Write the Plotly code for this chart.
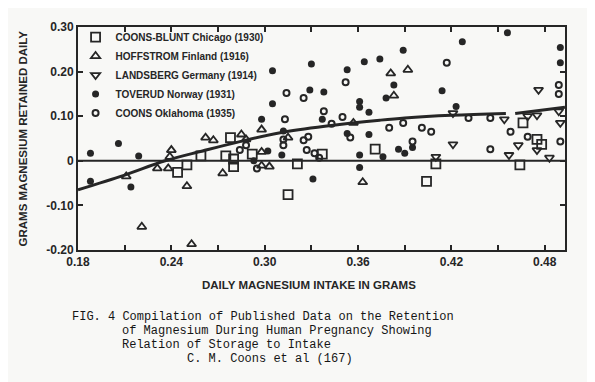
import plotly.graph_objects as go

# ---- data ----
sq_x = [0.244, 0.250, 0.259, 0.278, 0.275, 0.280, 0.280, 0.292, 0.321, 0.315, 0.337, 0.371, 0.404, 0.410, 0.464, 0.466, 0.475, 0.478]
sq_y = [-0.026, -0.009, 0.011, 0.052, 0.011, 0.004, -0.013, 0.015, -0.007, -0.076, 0.015, 0.026, -0.046, -0.007, -0.009, 0.085, 0.048, 0.037]

tu_x = [0.211, 0.221, 0.231, 0.238, 0.240, 0.239, 0.250, 0.253, 0.262, 0.267, 0.273, 0.285, 0.288, 0.298, 0.303, 0.298, 0.298, 0.315, 0.357, 0.363, 0.381, 0.392, 0.383]
tu_y = [-0.035, -0.148, -0.017, -0.017, 0.024, 0.009, -0.057, -0.187, 0.052, 0.046, -0.028, 0.059, 0.048, 0.070, -0.013, -0.011, 0.020, 0.052, 0.085, -0.048, 0.196, 0.204, 0.146]

td_x = [0.421, 0.454, 0.469, 0.475, 0.489, 0.490, 0.476, 0.421, 0.463, 0.475, 0.457, 0.483, 0.410]
td_y = [0.107, 0.093, 0.100, 0.102, 0.111, 0.085, 0.159, 0.037, 0.035, 0.024, 0.013, 0.007, 0.009]

fc_x = [0.188, 0.206, 0.219, 0.188, 0.214, 0.312, 0.311, 0.302, 0.305, 0.330, 0.353, 0.364, 0.374, 0.389,
        0.305, 0.329, 0.338, 0.383, 0.378, 0.361, 0.361, 0.367, 0.298, 0.337, 0.353, 0.367, 0.361, 0.361,
        0.331, 0.376, 0.386, 0.390, 0.395, 0.427, 0.456, 0.490, 0.490, 0.414, 0.423, 0.293]
fc_y = [0.017, 0.039, 0.011, -0.046, -0.059, 0.067, 0.013, 0.022, 0.202, 0.217, 0.204, 0.222, 0.228, 0.248,
        0.128, 0.159, 0.154, 0.170, 0.141, 0.133, 0.120, 0.109, 0.093, 0.093, 0.061, 0.059, 0.013, -0.015,
        -0.041, 0.009, 0.026, 0.017, 0.030, 0.267, 0.287, 0.254, 0.220, 0.157, 0.122, 0.000]

oc_x = [0.288, 0.295, 0.312, 0.312, 0.314, 0.325, 0.313, 0.338, 0.350, 0.325, 0.328, 0.343, 0.355, 0.380,
        0.389, 0.352, 0.417, 0.327, 0.332, 0.335, 0.401, 0.407, 0.395, 0.431, 0.445, 0.458, 0.469, 0.445,
        0.490, 0.489, 0.489, 0.284]
oc_y = [0.035, -0.017, 0.048, 0.035, 0.152, 0.141, 0.093, 0.111, 0.098, 0.046, 0.054, 0.083, 0.052, 0.074,
        0.085, 0.176, 0.220, 0.024, 0.017, 0.007, 0.074, 0.065, 0.043, 0.096, 0.096, 0.065, 0.054, 0.026,
        0.043, 0.170, 0.150, 0.024]

trend_x = [0.18, 0.21, 0.236, 0.26, 0.284, 0.31, 0.34, 0.374, 0.39, 0.42, 0.455, None, 0.461, 0.493]
trend_y = [-0.065, -0.032, 0.0, 0.022, 0.043, 0.063, 0.078, 0.091, 0.096, 0.102, 0.106, None, 0.106, 0.12]

x_ticks = [0.18, 0.24, 0.30, 0.36, 0.42, 0.48]
x_ticklabels = ["0.18", "0.24", "0.30", "0.36", "0.42", "0.48"]
y_ticks = [0.30, 0.20, 0.10, 0.0, -0.10, -0.20]
y_ticklabels = ["0.30", "0.20", "0.10", "0", "-0.10", "-0.20"]

series_names = ["COONS-BLUNT Chicago (1930)", "HOFFSTROM Finland (1916)", "LANDSBERG Germany (1914)",
                "TOVERUD Norway (1931)", "COONS Oklahoma (1935)"]

caption = ["FIG. 4 Compilation of Published Data on the Retention",
           "of Magnesium During Human Pregnancy Showing",
           "Relation of Storage to Intake",
           "C. M. Coons et al (167)"]

INK = "#262626"
BG = "#f8f8f6"
SANS = "Liberation Sans Narrow, Liberation Sans, Arial, sans-serif"
MONO = "Liberation Mono, Courier New, monospace"

fig = go.Figure()

# zero line
fig.add_hline(y=0, line=dict(color=INK, width=2))

# trend
fig.add_trace(go.Scatter(x=trend_x, y=trend_y, mode="lines", line=dict(color=INK, width=3, shape="spline"),
                         connectgaps=False, showlegend=False, hoverinfo="skip"))

def add(xs, ys, name, symbol, size, lw=1.8):
    fig.add_trace(go.Scatter(x=xs, y=ys, mode="markers", name=name,
                             marker=dict(symbol=symbol, size=size, color=INK,
                                         line=dict(color=INK, width=lw))))

add(sq_x, sq_y, series_names[0], "square-open", 9)
add(tu_x, tu_y, series_names[1], "triangle-up-open", 8)
add(td_x, td_y, series_names[2], "triangle-down-open", 8)
add(fc_x, fc_y, series_names[3], "circle", 7, 0)
add(oc_x, oc_y, series_names[4], "circle-open", 6, 2)

# page body has an 8px default margin: figure is sized/offset to compensate
fig.update_layout(
    width=587, height=374,
    margin=dict(l=70, r=30, t=12, b=132),
    paper_bgcolor=BG, plot_bgcolor=BG,
    showlegend=True,
    legend=dict(x=-0.005, y=1.02, xanchor="left", yanchor="top", bgcolor="rgba(0,0,0,0)",
                font=dict(family=SANS, size=10, color=INK, weight="bold"),
                tracegroupgap=0, itemwidth=30),
    font=dict(family=SANS, color=INK),
)

fig.update_xaxes(range=[0.18, 0.493], tickvals=x_ticks, ticktext=x_ticklabels,
                 ticks="inside", ticklen=5, tickwidth=2, tickcolor=INK,
                 minor=dict(dtick=0.03, tick0=0.18, ticks="inside", ticklen=5, tickwidth=2, tickcolor=INK),
                 showline=True, linecolor=INK, linewidth=2, mirror="ticks", showgrid=False, zeroline=False,
                 tickfont=dict(family=SANS, size=12, color=INK, weight="bold"))
fig.update_yaxes(range=[-0.20, 0.30], tickvals=y_ticks, ticktext=y_ticklabels,
                 ticks="inside", ticklen=5, tickwidth=2, tickcolor=INK,
                 showline=True, linecolor=INK, linewidth=2, mirror="ticks", showgrid=False, zeroline=False,
                 tickfont=dict(family=SANS, size=12, color=INK, weight="bold"))

# axis titles
fig.add_annotation(text="DAILY MAGNESIUM INTAKE IN GRAMS", xref="paper", yref="paper",
                   x=0.474, y=-0.155, xanchor="center", yanchor="middle", showarrow=False,
                   font=dict(family=SANS, size=11.5, color=INK, weight="bold"))
fig.add_annotation(text="GRAMS MAGNESIUM RETAINED DAILY", xref="paper", yref="paper",
                   x=-0.113, y=0.5, xanchor="center", yanchor="middle", showarrow=False, textangle=-90,
                   font=dict(family=SANS, size=11.5, color=INK, weight="bold"))

cap_x = [-0.0164, 0.0869, 0.0869, 0.2197]
for i, line in enumerate(caption):
    fig.add_annotation(text=line, xref="paper", yref="paper", x=cap_x[i], y=(250 - (319 + 14.5 * i)) / 230,
                       xanchor="left", yanchor="middle", showarrow=False,
                       font=dict(family=MONO, size=12, color="#151515"))

fig.write_html("out.html")
